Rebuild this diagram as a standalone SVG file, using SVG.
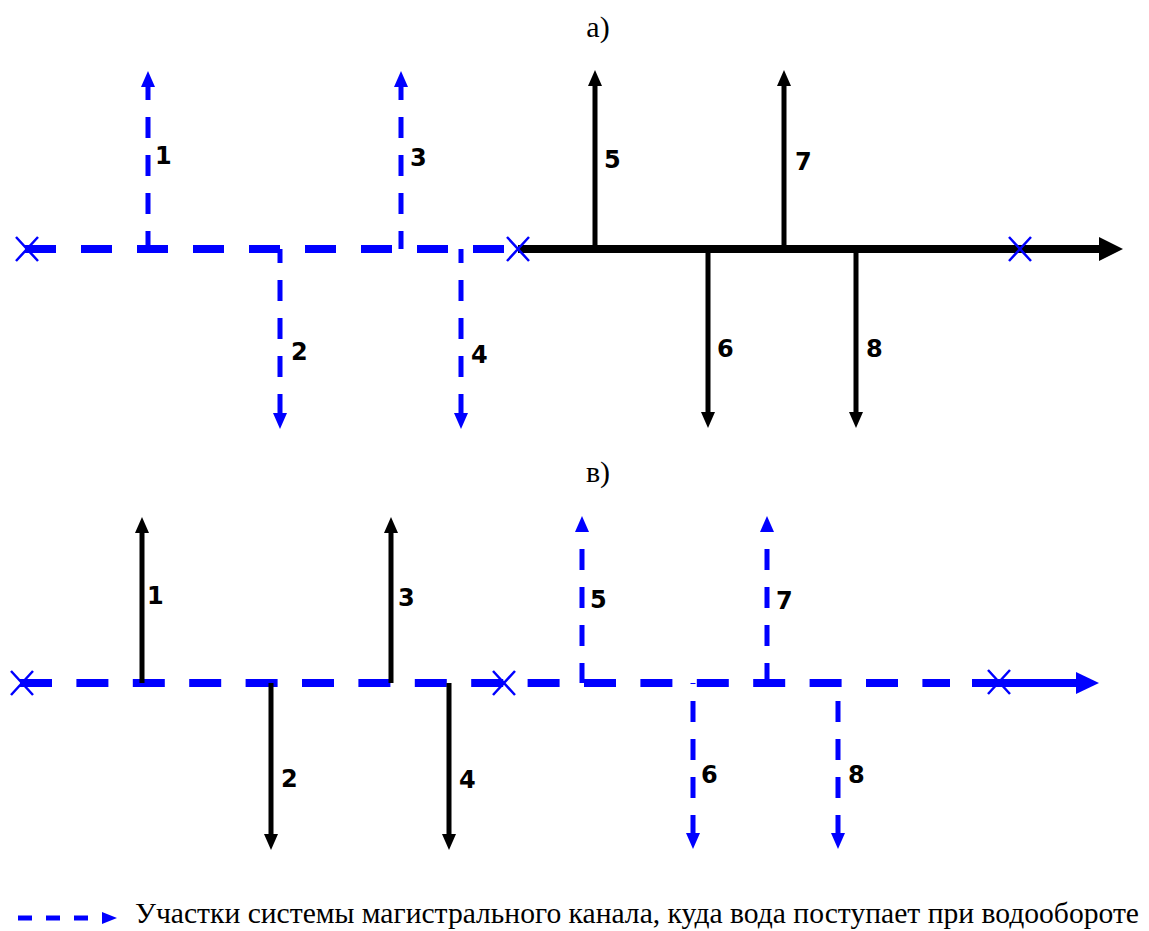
<svg xmlns="http://www.w3.org/2000/svg" xmlns:xlink="http://www.w3.org/1999/xlink" width="1149" height="931" viewBox="0 0 1149 931">
<style>
.bg{fill:#fff}
.main-blue{fill:none;stroke:#0000ff;stroke-width:8;stroke-dasharray:31 25}
.main-blue-b{fill:none;stroke:#0000ff;stroke-width:8;stroke-dasharray:32 24.4}
.main-black{fill:none;stroke:#000;stroke-width:8}
.main-blue-solid{fill:none;stroke:#0000ff;stroke-width:8}
.br-blue{fill:none;stroke:#0000ff;stroke-width:5;stroke-dasharray:21 17}
.br-black{fill:none;stroke:#000;stroke-width:5}
.xm{fill:none;stroke:#0000ff;stroke-width:2.5}
.num{font-family:"DejaVu Sans",Verdana,sans-serif;font-weight:bold;font-size:24px;fill:#000}
.head{font-family:"Liberation Serif","Times New Roman",serif;font-size:30px;fill:#000}
.legend{font-family:"Liberation Serif","Times New Roman",serif;font-size:29px;fill:#000}
</style>
<defs>
<marker id="arBlue" markerUnits="userSpaceOnUse" markerWidth="16" markerHeight="14" viewBox="0 0 16 14" refX="0" refY="7" orient="auto-start-reverse"><path d="M0,0 L16,7 L0,14 Z" fill="#0000ff"/></marker>
<marker id="arBlack" markerUnits="userSpaceOnUse" markerWidth="16" markerHeight="14" viewBox="0 0 16 14" refX="0" refY="7" orient="auto-start-reverse"><path d="M0,0 L16,7 L0,14 Z" fill="#000"/></marker>
<marker id="arBigBlack" markerUnits="userSpaceOnUse" markerWidth="24" markerHeight="24" viewBox="0 0 24 24" refX="0" refY="12" orient="auto"><path d="M0,0 L24,12 L0,24 Z" fill="#000"/></marker>
<marker id="arBigBlue" markerUnits="userSpaceOnUse" markerWidth="23" markerHeight="22" viewBox="0 0 23 22" refX="0" refY="11" orient="auto"><path d="M0,0 L23,11 L0,22 Z" fill="#0000ff"/></marker>
<marker id="arLegend" markerUnits="userSpaceOnUse" markerWidth="15" markerHeight="12" viewBox="0 0 15 12" refX="0" refY="6" orient="auto"><path d="M0,0 L15,6 L0,12 Z" fill="#0000ff"/></marker>
<path id="xmark" class="xm" d="M-11,-12 L11,12 M11,-12 L-11,12"/>
</defs>
<rect class="bg" x="0" y="0" width="1149" height="931"/>

<g id="headings">
<text class="head" x="598" y="37" text-anchor="middle">а)</text>
<text class="head" x="598" y="482" text-anchor="middle">в)</text>
</g>

<g id="connectors">
<path class="main-blue" d="M25,249 H504"/>
<path class="main-black" d="M518,249 H1099" marker-end="url(#arBigBlack)"/>
<path class="br-blue" d="M148,87 V249" stroke-dashoffset="8" marker-start="url(#arBlue)"/>
<path class="br-blue" d="M401,87 V249" stroke-dashoffset="8" marker-start="url(#arBlue)"/>
<path class="br-blue" d="M280,413 V249" stroke-dashoffset="2" marker-start="url(#arBlue)"/>
<path class="br-blue" d="M461,413 V249" stroke-dashoffset="2" marker-start="url(#arBlue)"/>
<path class="br-black" d="M595,249 V86" marker-end="url(#arBlack)"/>
<path class="br-black" d="M784,249 V86" marker-end="url(#arBlack)"/>
<path class="br-black" d="M708,249 V412" marker-end="url(#arBlack)"/>
<path class="br-black" d="M856,249 V412" marker-end="url(#arBlack)"/>

<path class="main-blue-b" d="M20,683 H950"/>
<path class="main-blue-solid" d="M972,683 H1076" marker-end="url(#arBigBlue)"/>
<path class="br-black" d="M142,683 V533" marker-end="url(#arBlack)"/>
<path class="br-black" d="M391,683 V533" marker-end="url(#arBlack)"/>
<path class="br-black" d="M271,683 V834" marker-end="url(#arBlack)"/>
<path class="br-black" d="M449,683 V834" marker-end="url(#arBlack)"/>
<path class="br-blue" d="M582,532 V683" stroke-dashoffset="21" marker-start="url(#arBlue)"/>
<path class="br-blue" d="M767,532 V683" stroke-dashoffset="21" marker-start="url(#arBlue)"/>
<path class="br-blue" d="M693,833 V683" stroke-dashoffset="3" marker-start="url(#arBlue)"/>
<path class="br-blue" d="M838,833 V683" stroke-dashoffset="3" marker-start="url(#arBlue)"/>
</g>

<g id="cross-marks">
<use xlink:href="#xmark" x="27" y="249"/>
<use xlink:href="#xmark" x="518" y="249"/>
<use xlink:href="#xmark" x="1020" y="249"/>
<use xlink:href="#xmark" x="22" y="683"/>
<use xlink:href="#xmark" x="504" y="683"/>
<use xlink:href="#xmark" x="999" y="682"/>
</g>

<g id="labels-a">
<text class="num" x="155" y="164">1</text>
<text class="num" x="410" y="166">3</text>
<text class="num" x="291" y="360">2</text>
<text class="num" x="471" y="363">4</text>
<text class="num" x="604" y="168">5</text>
<text class="num" x="795" y="170">7</text>
<text class="num" x="717" y="357">6</text>
<text class="num" x="866" y="357">8</text>
</g>

<g id="labels-b">
<text class="num" x="147" y="604">1</text>
<text class="num" x="398" y="606">3</text>
<text class="num" x="281" y="787">2</text>
<text class="num" x="459" y="788">4</text>
<text class="num" x="590" y="608">5</text>
<text class="num" x="776" y="609">7</text>
<text class="num" x="701" y="783">6</text>
<text class="num" x="848" y="783">8</text>
</g>

<g id="legend">
<path d="M18,918 H102" fill="none" stroke="#0000ff" stroke-width="5" stroke-dasharray="14 14" marker-end="url(#arLegend)"/>
<text class="legend" x="135" y="923" textLength="1004" lengthAdjust="spacingAndGlyphs">Участки системы магистрального канала, куда вода поступает при водообороте</text>
</g>
</svg>
